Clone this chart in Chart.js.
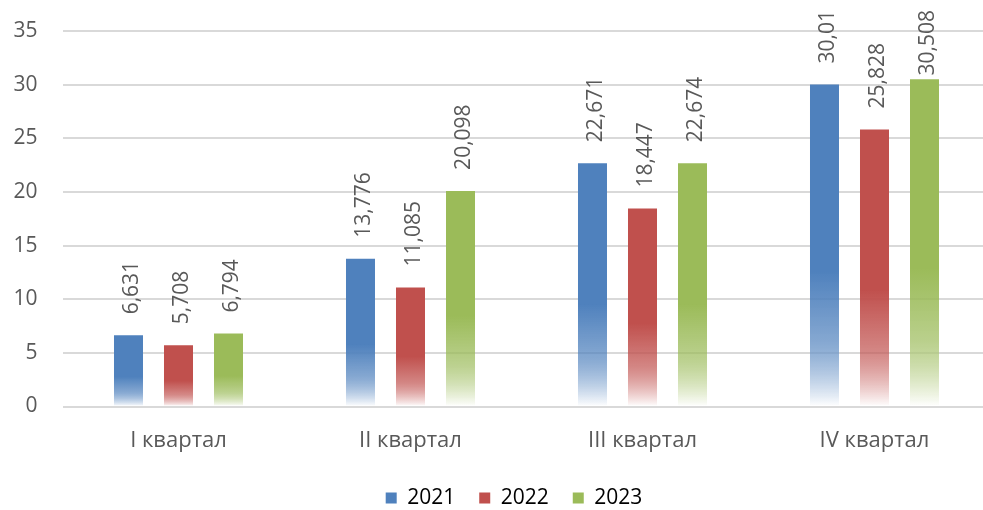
<!DOCTYPE html>
<html><head><meta charset="utf-8">
<script src="https://cdn.jsdelivr.net/npm/chart.js@4"></script>
<style>html,body{margin:0;padding:0;overflow:hidden;background:#fff}</style>
</head><body>
<canvas id="c" width="1028" height="510"></canvas>
<script>
const categories = ['I квартал', 'II квартал', 'III квартал', 'IV квартал'];
const seriesNames = ['2021', '2022', '2023'];
const values2021 = [6.631, 13.776, 22.671, 30.01];
const values2022 = [5.708, 11.085, 18.447, 25.828];
const values2023 = [6.794, 20.098, 22.674, 30.508];
const yTicks = [0, 5, 10, 15, 20, 25, 30, 35];
const colors = ['#4F81BD', '#C0504D', '#9BBB59'];

const FONT = '"Open Sans", sans-serif';
const TXT = '#595959';

function fmt(v) { return String(v).replace('.', ','); }

function gradFor(color) {
  return function (ctx) {
    const chart = ctx.chart;
    if (!chart.chartArea || ctx.raw == null) return color;
    const y = chart.scales.y;
    const top = y.getPixelForValue(ctx.raw);
    const bot = y.getPixelForValue(0);
    const g = chart.ctx.createLinearGradient(0, top, 0, bot);
    g.addColorStop(0, color);
    g.addColorStop(0.58, color);
    g.addColorStop(0.8, color + 'B0');
    g.addColorStop(1, 'rgba(255,255,255,1)');
    return g;
  };
}

const labelPlugin = {
  id: 'vlabels',
  afterDatasetsDraw(chart) {
    const c = chart.ctx;
    c.save();
    c.font = '21px ' + FONT;
    c.fillStyle = TXT;
    chart.data.datasets.forEach((ds, i) => {
      const meta = chart.getDatasetMeta(i);
      meta.data.forEach((bar, j) => {
        const txt = fmt(ds.data[j]);
        const w = c.measureText(txt).width;
        let y = bar.y - 21;
        if (y - w < 10) y = 10 + w;
        c.save();
        c.translate(bar.x + 9.5, y);
        c.rotate(-Math.PI / 2);
        c.textAlign = 'left';
        c.textBaseline = 'alphabetic';
        c.fillText(txt, 0, 0);
        c.restore();
      });
    });
    c.restore();
  }
};

const seriesValues = [values2021, values2022, values2023];

new Chart(document.getElementById('c'), {
  type: 'bar',
  data: {
    labels: categories,
    datasets: seriesNames.map((n, i) => ({
      label: n,
      data: seriesValues[i],
      backgroundColor: gradFor(colors[i]),
      borderWidth: 0,
      categoryPercentage: 0.6466,
      barPercentage: 0.58
    }))
  },
  options: {
    responsive: false,
    animation: false,
    devicePixelRatio: 1,
    layout: { padding: { top: 31, left: 0, right: 0, bottom: -8.5 } },
    plugins: {
      tooltip: { enabled: false },
      legend: {
        position: 'bottom',
        labels: {
          boxWidth: 11, boxHeight: 11, padding: 24,
          color: TXT,
          font: { family: FONT, size: 21 },
          generateLabels(chart) {
            return chart.data.datasets.map((ds, i) => ({
              text: ds.label, fillStyle: colors[i], strokeStyle: colors[i],
              lineWidth: 0, datasetIndex: i, hidden: false
            }));
          }
        }
      }
    },
    scales: {
      x: {
        grid: { display: false, drawTicks: false },
        border: { display: false },
        ticks: { color: TXT, font: { family: FONT, size: 22 }, padding: 21 },
        afterFit(s) { s.height = 57; }
      },
      y: {
        min: 0, max: 35,
        afterBuildTicks(s) { s.ticks = yTicks.map(v => ({ value: v })); },
        grid: { color: '#d9d9d9', lineWidth: 2, drawTicks: false },
        border: { display: false },
        ticks: { color: TXT, font: { family: FONT, size: 21 }, padding: 25 },
        afterFit(s) { s.width = 62.5; s.paddingTop = 0; s.paddingBottom = 0; }
      },
      y2: {
        type: 'linear', position: 'right', display: true,
        grid: { display: false, drawTicks: false },
        border: { display: false },
        ticks: { display: false },
        afterFit(s) { s.width = 37.5; s.paddingTop = 0; s.paddingBottom = 0; }
      }
    }
  },
  plugins: [labelPlugin]
});
</script>
</body></html>
